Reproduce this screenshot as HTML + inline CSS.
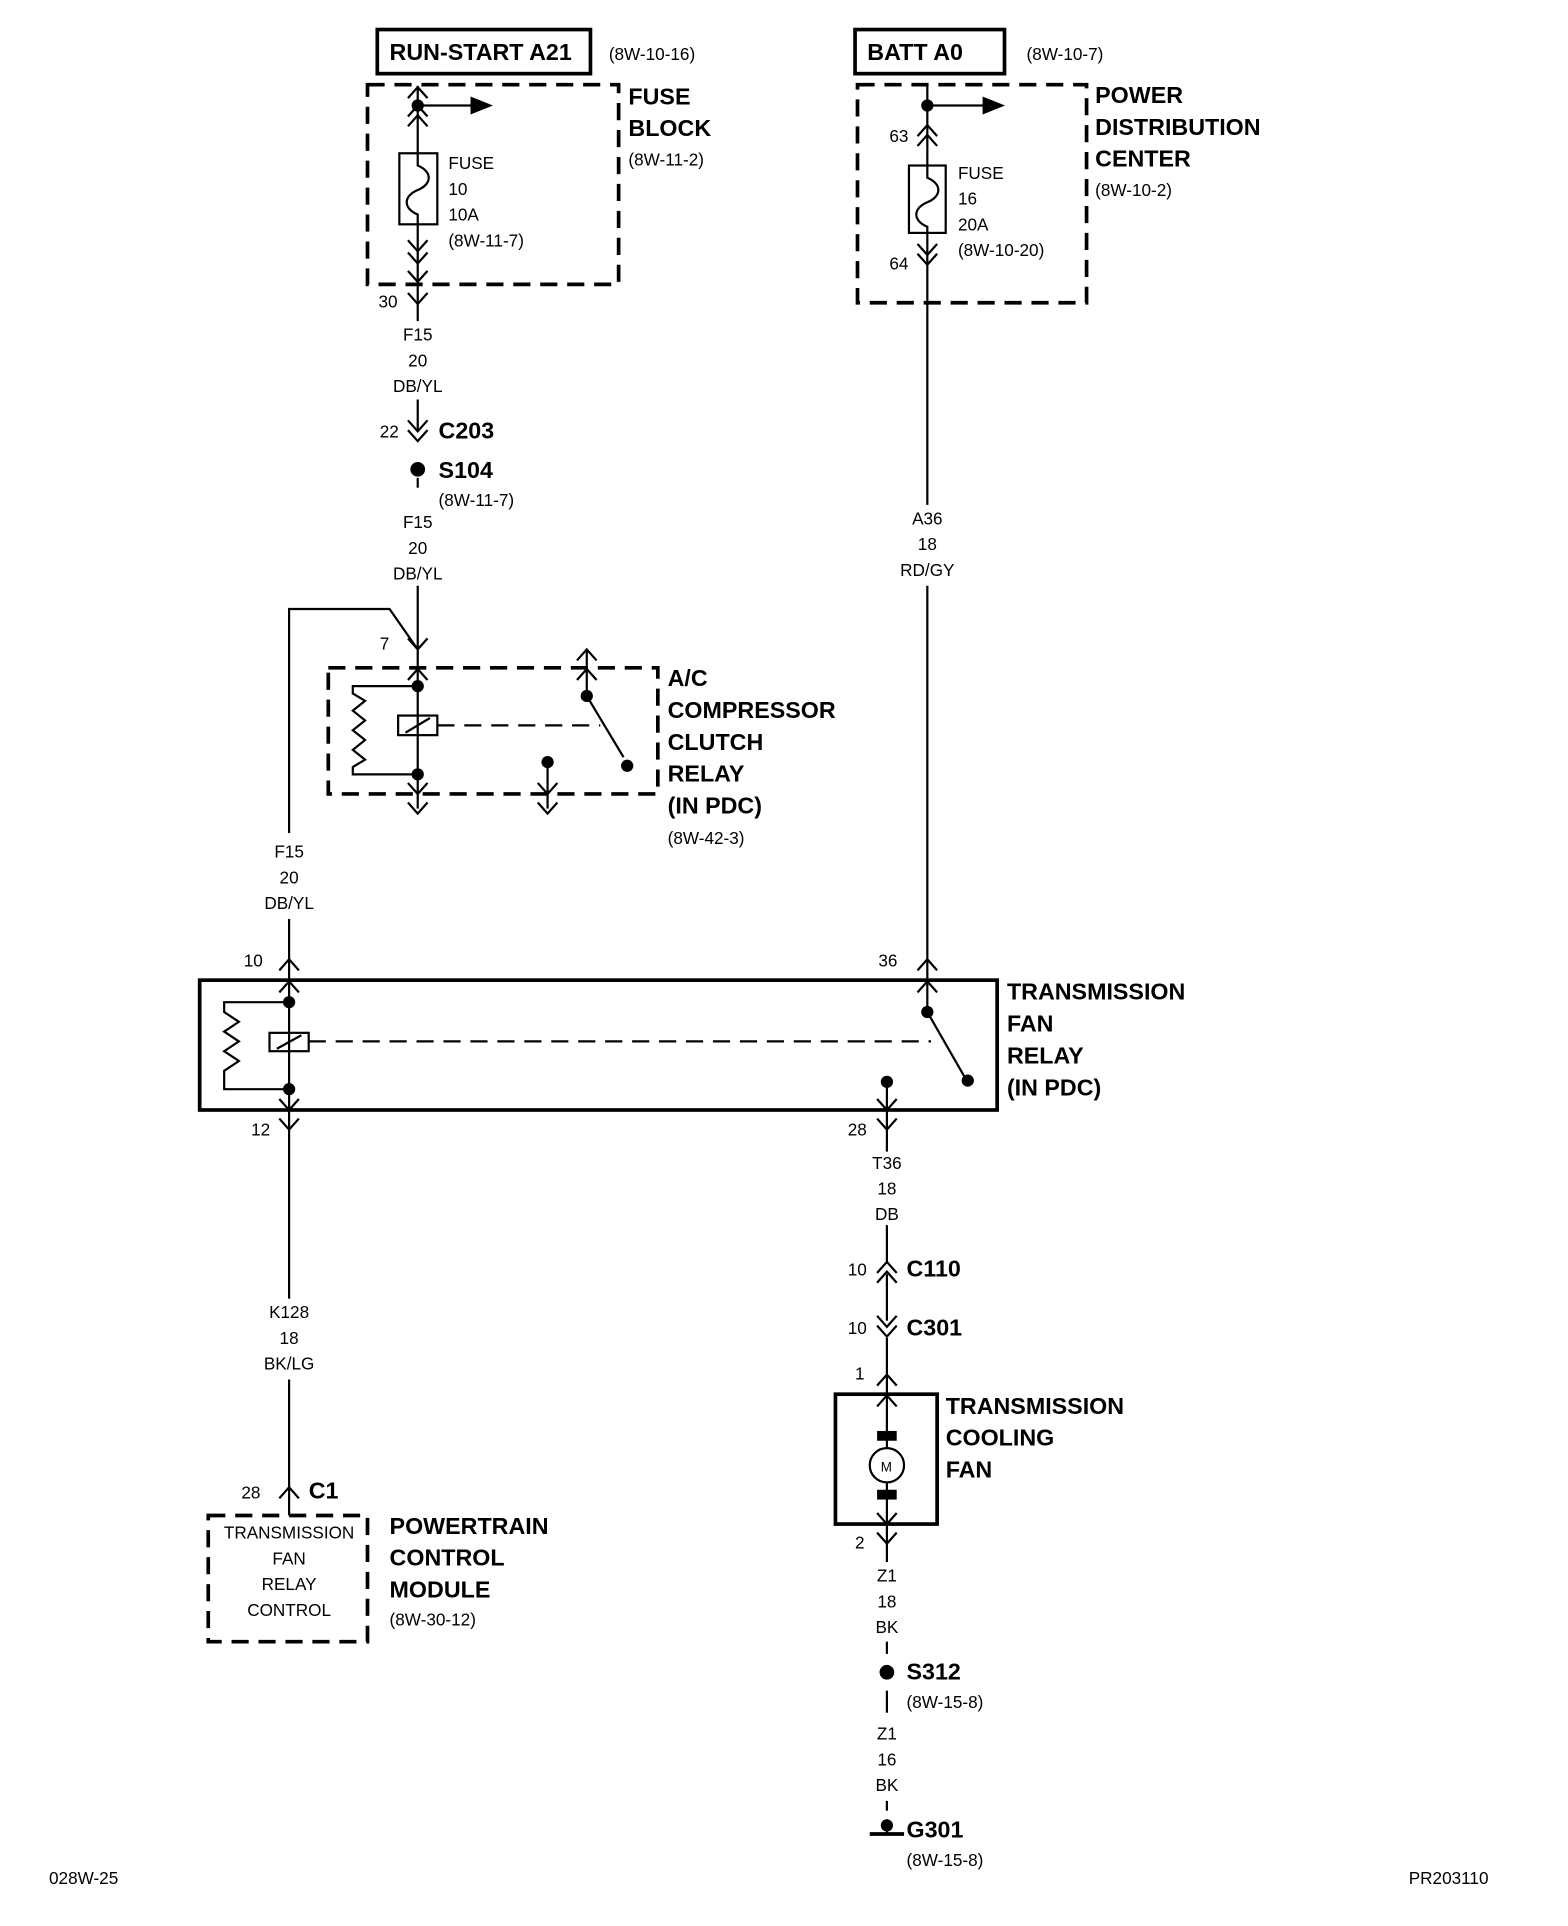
<!DOCTYPE html>
<html><head><meta charset="utf-8"><style>
html,body{margin:0;padding:0;background:#fff}
svg{display:block}
text{font-family:"Liberation Sans",Arial,sans-serif;fill:#000}
.n{font-size:14px}
.b{font-size:19px;font-weight:bold}
.c{text-anchor:middle}
</style></head><body>
<svg width="1568" height="1926" viewBox="0 0 1280 1572" xmlns="http://www.w3.org/2000/svg">
<defs>
<g id="up"><polyline points="-8,9 0,0 8,9" fill="none" stroke="#000" stroke-width="1.8"/></g>
<g id="dn"><polyline points="-8,-9 0,0 8,-9" fill="none" stroke="#000" stroke-width="1.8"/></g>
</defs>
<g stroke="#000" fill="none" stroke-width="1.8">
<rect x="308" y="24" width="174" height="36" stroke-width="3"/>
<rect x="300" y="69" width="205" height="163" stroke-width="3" stroke-dasharray="14,8"/>
<line x1="341" y1="70" x2="341" y2="125"/>
<line x1="341" y1="86" x2="385" y2="86"/>
<polygon points="385,80 400,86 385,92" fill="#000"/>
<rect x="326" y="125" width="31" height="58"/>
<path d="M341,125 v10 c12,5 12,15 0,20 c-12,5 -12,15 0,20 v8"/>
<line x1="341" y1="183" x2="341" y2="245"/>
<line x1="341" y1="245" x2="341" y2="262"/>
<line x1="341" y1="326" x2="341" y2="352"/>
<line x1="341" y1="390" x2="341" y2="398" />
<line x1="341" y1="478" x2="341" y2="545"/>
<polyline points="236,680 236,497 318,497 341,530"/>
<rect x="268" y="545" width="269" height="103" stroke-width="3" stroke-dasharray="14,8"/>
<line x1="341" y1="545" x2="341" y2="660"/>
<rect x="325" y="584" width="32" height="16"/>
<line x1="331" y1="598" x2="351" y2="586"/>
<polyline points="341,560 288,560 288,566 298,572 288,580 298,588 288,596 298,604 288,612 298,620 288,626 288,632 341,632"/>
<line x1="357" y1="592" x2="490" y2="592" stroke-dasharray="14,8"/>
<line x1="479" y1="530" x2="479" y2="568"/>
<line x1="479" y1="568" x2="509" y2="618"/>
<line x1="447" y1="622" x2="447" y2="660"/>
<line x1="236" y1="750" x2="236" y2="1060"/>
<rect x="163" y="800" width="651" height="106" stroke-width="3"/>
<rect x="220" y="843" width="32" height="15"/>
<line x1="226" y1="856" x2="246" y2="845"/>
<polyline points="236,818 183,818 183,826 195,834 183,842 195,850 183,858 195,866 183,874 183,889 236,889"/>
<line x1="252" y1="850" x2="760" y2="850" stroke-dasharray="14,8"/>
<line x1="757" y1="247" x2="757" y2="412"/>
<line x1="757" y1="478" x2="757" y2="826"/>
<line x1="757" y1="826" x2="788" y2="880"/>
<line x1="724" y1="883" x2="724" y2="940"/>
<line x1="236" y1="1126" x2="236" y2="1218"/>
<line x1="724" y1="1000" x2="724" y2="1030"/>
<line x1="724" y1="1040" x2="724" y2="1078"/>
<line x1="724" y1="1092" x2="724" y2="1138"/>
<rect x="170" y="1237" width="130" height="103" stroke-width="3" stroke-dasharray="14,8"/>
<line x1="236" y1="1218" x2="236" y2="1237"/>
<rect x="682" y="1138" width="83" height="106" stroke-width="3"/>
<line x1="724" y1="1138" x2="724" y2="1182"/>
<circle cx="724" cy="1196" r="14"/>
<line x1="724" y1="1210" x2="724" y2="1275"/>
<line x1="724" y1="1340" x2="724" y2="1350"/>
<line x1="724" y1="1380" x2="724" y2="1398"/>
<line x1="724" y1="1470" x2="724" y2="1478"/>
<line x1="724" y1="1485" x2="724" y2="1496"/>
<line x1="710" y1="1497" x2="738" y2="1497" stroke-width="3"/>
<rect x="698" y="24" width="122" height="36" stroke-width="3"/>
<rect x="700" y="69" width="187" height="178" stroke-width="3" stroke-dasharray="14,8"/>
<line x1="757" y1="70" x2="757" y2="135"/>
<line x1="757" y1="86" x2="803" y2="86"/>
<polygon points="803,80 818,86 803,92" fill="#000"/>
<rect x="742" y="135" width="30" height="55"/>
<path d="M757,135 v10 c12,5 12,15 0,20 c-12,5 -12,15 0,20 v5"/>
<line x1="757" y1="190" x2="757" y2="247"/>
</g>
<g fill="#000">
<circle cx="341" cy="86" r="5"/><circle cx="757" cy="86" r="5"/>
<circle cx="341" cy="383" r="6"/>
<circle cx="341" cy="560" r="5"/><circle cx="341" cy="632" r="5"/>
<circle cx="479" cy="568" r="5"/><circle cx="512" cy="625" r="5"/><circle cx="447" cy="622" r="5"/>
<circle cx="236" cy="818" r="5"/><circle cx="236" cy="889" r="5"/>
<circle cx="757" cy="826" r="5"/><circle cx="790" cy="882" r="5"/><circle cx="724" cy="883" r="5"/>
<circle cx="724" cy="1365" r="6"/>
<rect x="716" y="1168" width="16" height="8"/><rect x="716" y="1216" width="16" height="8"/>
<circle cx="724" cy="1490" r="5"/>
</g>
<use href="#up" x="341" y="71"/><use href="#up" x="341" y="86"/><use href="#up" x="341" y="94"/>
<use href="#dn" x="341" y="205"/><use href="#dn" x="341" y="215"/><use href="#dn" x="341" y="230"/>
<use href="#dn" x="341" y="248"/>
<use href="#dn" x="341" y="352"/><use href="#dn" x="341" y="360"/>
<use href="#dn" x="341" y="530"/><use href="#up" x="341" y="546"/>
<use href="#up" x="479" y="530"/><use href="#up" x="479" y="546"/>
<use href="#dn" x="341" y="648"/><use href="#dn" x="341" y="664"/>
<use href="#dn" x="447" y="648"/><use href="#dn" x="447" y="664"/>
<use href="#up" x="236" y="783"/><use href="#up" x="236" y="801"/>
<use href="#up" x="757" y="783"/><use href="#up" x="757" y="801"/>
<use href="#dn" x="236" y="906"/><use href="#dn" x="236" y="922"/>
<use href="#dn" x="724" y="906"/><use href="#dn" x="724" y="922"/>
<use href="#up" x="724" y="1030"/><use href="#up" x="724" y="1038"/>
<use href="#dn" x="724" y="1083"/><use href="#dn" x="724" y="1091"/>
<use href="#up" x="724" y="1122"/><use href="#up" x="724" y="1139"/>
<use href="#dn" x="724" y="1244"/><use href="#dn" x="724" y="1260"/>
<use href="#up" x="236" y="1214"/>
<use href="#up" x="757" y="102"/><use href="#up" x="757" y="110"/>
<use href="#dn" x="757" y="208"/><use href="#dn" x="757" y="216"/>
<text x="318" y="49" class="b">RUN-START A21</text>
<text x="497" y="49" class="n">(8W-10-16)</text>
<text x="513" y="85" class="b">FUSE</text>
<text x="513" y="111" class="b">BLOCK</text>
<text x="513" y="135" class="n">(8W-11-2)</text>
<text x="366" y="138" class="n">FUSE</text>
<text x="366" y="159" class="n">10</text>
<text x="366" y="180" class="n">10A</text>
<text x="366" y="201" class="n">(8W-11-7)</text>
<text x="309" y="251" class="n">30</text>
<text x="341" y="278" class="n c">F15</text><text x="341" y="299" class="n c">20</text><text x="341" y="320" class="n c">DB/YL</text>
<text x="341" y="431" class="n c">F15</text><text x="341" y="452" class="n c">20</text><text x="341" y="473" class="n c">DB/YL</text>
<text x="236" y="700" class="n c">F15</text><text x="236" y="721" class="n c">20</text><text x="236" y="742" class="n c">DB/YL</text>
<text x="757" y="428" class="n c">A36</text><text x="757" y="449" class="n c">18</text><text x="757" y="470" class="n c">RD/GY</text>
<text x="724" y="954" class="n c">T36</text><text x="724" y="975" class="n c">18</text><text x="724" y="996" class="n c">DB</text>
<text x="236" y="1076" class="n c">K128</text><text x="236" y="1097" class="n c">18</text><text x="236" y="1118" class="n c">BK/LG</text>
<text x="724" y="1291" class="n c">Z1</text><text x="724" y="1312" class="n c">18</text><text x="724" y="1333" class="n c">BK</text>
<text x="724" y="1420" class="n c">Z1</text><text x="724" y="1441" class="n c">16</text><text x="724" y="1462" class="n c">BK</text>
<text x="236" y="1256" class="n c">TRANSMISSION</text><text x="236" y="1277" class="n c">FAN</text><text x="236" y="1298" class="n c">RELAY</text><text x="236" y="1319" class="n c">CONTROL</text>
<text x="310" y="357" class="n">22</text><text x="358" y="358" class="b">C203</text>
<text x="358" y="390" class="b">S104</text><text x="358" y="413" class="n">(8W-11-7)</text>
<text x="310" y="530" class="n">7</text>
<text x="545" y="560" class="b">A/C</text>
<text x="545" y="586" class="b">COMPRESSOR</text>
<text x="545" y="612" class="b">CLUTCH</text>
<text x="545" y="638" class="b">RELAY</text>
<text x="545" y="664" class="b">(IN PDC)</text>
<text x="545" y="689" class="n">(8W-42-3)</text>
<text x="199" y="789" class="n">10</text>
<text x="717" y="789" class="n">36</text>
<text x="822" y="816" class="b">TRANSMISSION</text>
<text x="822" y="842" class="b">FAN</text>
<text x="822" y="868" class="b">RELAY</text>
<text x="822" y="894" class="b">(IN PDC)</text>
<text x="205" y="927" class="n">12</text>
<text x="692" y="927" class="n">28</text>
<text x="692" y="1041" class="n">10</text><text x="740" y="1042" class="b">C110</text>
<text x="692" y="1089" class="n">10</text><text x="740" y="1090" class="b">C301</text>
<text x="698" y="1126" class="n">1</text>
<text x="719" y="1201" class="n" style="font-size:11px">M</text>
<text x="772" y="1154" class="b">TRANSMISSION</text>
<text x="772" y="1180" class="b">COOLING</text>
<text x="772" y="1206" class="b">FAN</text>
<text x="698" y="1264" class="n">2</text>
<text x="740" y="1371" class="b">S312</text><text x="740" y="1394" class="n">(8W-15-8)</text>
<text x="740" y="1500" class="b">G301</text><text x="740" y="1523" class="n">(8W-15-8)</text>
<text x="197" y="1223" class="n">28</text><text x="252" y="1223" class="b">C1</text>
<text x="318" y="1252" class="b">POWERTRAIN</text>
<text x="318" y="1278" class="b">CONTROL</text>
<text x="318" y="1304" class="b">MODULE</text>
<text x="318" y="1327" class="n">(8W-30-12)</text>
<text x="708" y="49" class="b">BATT A0</text>
<text x="838" y="49" class="n">(8W-10-7)</text>
<text x="894" y="84" class="b">POWER</text>
<text x="894" y="110" class="b">DISTRIBUTION</text>
<text x="894" y="136" class="b">CENTER</text>
<text x="894" y="160" class="n">(8W-10-2)</text>
<text x="726" y="116" class="n">63</text>
<text x="782" y="146" class="n">FUSE</text>
<text x="782" y="167" class="n">16</text>
<text x="782" y="188" class="n">20A</text>
<text x="782" y="209" class="n">(8W-10-20)</text>
<text x="726" y="220" class="n">64</text>
<text x="40" y="1538" class="n">028W-25</text>
<text x="1150" y="1538" class="n">PR203110</text>
</svg>
</body></html>
